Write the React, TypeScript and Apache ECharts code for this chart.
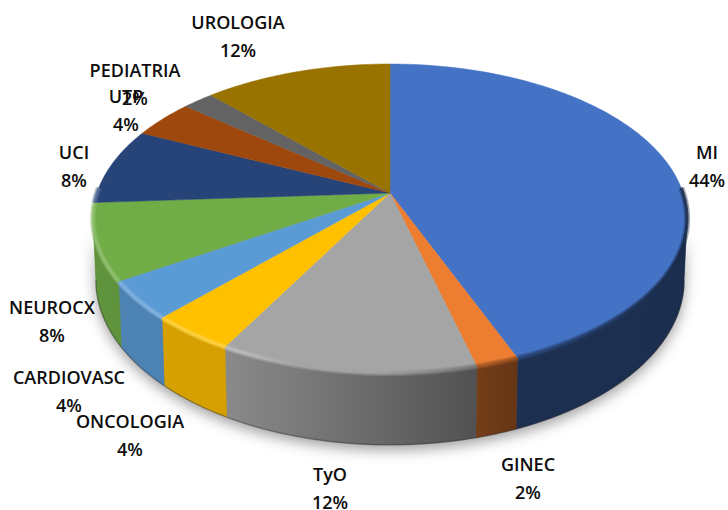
import React, { useEffect, useRef } from "react";
import * as echarts from "echarts";

const categories = ["MI", "GINEC", "TyO", "ONCOLOGIA", "CARDIOVASC", "NEUROCX", "UCI", "UTP", "PEDIATRIA", "UROLOGIA"];
const shares = [44, 2, 12, 4, 4, 8, 8, 4, 2, 12];
const colors = ["#4472c4", "#ed7d31", "#a5a5a5", "#ffc000", "#5b9bd5", "#70ad47", "#264478", "#9e480e", "#636363", "#997300"];
// centre of each two-line label
const labelX = [707, 528, 330, 130, 69, 52, 74, 126, 135, 238];
const labelY = [166, 478, 488, 435, 391, 321, 166, 110, 84, 36];

const CX = 390, CY = 193, A = 293, B = 150.3, K = 0.165, D = 60, BX = 0.99;
const total = shares.reduce((a, b) => a + b, 0);
const FRONT_A = 99.5, FRONT_B = 260.5;

const rad = (d: number) => (d * Math.PI) / 180;
function top(t: number): number[] {
  const u = Math.sin(rad(t)), v = -Math.cos(rad(t)), w = 1 - K * v;
  return [CX + (A * u) / w, CY + (B * v) / w];
}
function bottom(t: number): number[] {
  const u = Math.sin(rad(t)), v = -Math.cos(rad(t)), w = 1 - K * v;
  return [CX + (BX * A * u) / w, CY + (B * v) / w + D / w];
}
function range(a: number, b: number): number[] {
  const out: number[] = [];
  const n = Math.max(2, Math.ceil(b - a));
  for (let i = 0; i <= n; i++) out.push(a + ((b - a) * i) / n);
  return out;
}
function angles(i: number): [number, number] {
  const before = shares.slice(0, i).reduce((a, b) => a + b, 0);
  return [(before / total) * 360, ((before + shares[i]) / total) * 360];
}
function shade(hex: string, f: number): string {
  const n = parseInt(hex.slice(1), 16);
  const ch = [(n >> 16) & 255, (n >> 8) & 255, n & 255].map((c) =>
    Math.round(f <= 1 ? c * f : c + (255 - c) * (f - 1))
  );
  return `rgb(${ch[0]},${ch[1]},${ch[2]})`;
}
const X0 = 90, X1 = 690;
function stops(hex: string, pts: number[][]) {
  return {
    type: "linear", global: true, x: X0, y: 0, x2: X1, y2: 0,
    colorStops: pts.map(([x, f]) => ({ offset: (x - X0) / (X1 - X0), color: shade(hex, f) })),
  };
}
const wallShade = [[90, 0.85], [230, 0.83], [300, 0.74], [470, 0.5], [520, 0.42], [690, 0.4]];
const rimShade = [[90, 1.22], [240, 1.28], [300, 1.0], [380, 0.98], [470, 0.72], [520, 0.62], [690, 0.35]];

function renderWalls(params: any) {
  const i = params.dataIndex;
  const [a0, a1] = angles(i);
  const s = Math.max(a0, FRONT_A), e = Math.min(a1, FRONT_B);
  const children: any[] = [];
  if (i === 0) {
    const sil = range(FRONT_A, FRONT_B).map(bottom).concat(range(FRONT_A, FRONT_B).reverse().map(top));
    children.push({
      type: "polygon", shape: { points: sil },
      style: { fill: "#777", shadowColor: "rgba(0,0,0,0.38)", shadowBlur: 14, shadowOffsetY: 5 },
    });
  }
  if (e > s) {
    const pts = range(s, e).map(top).concat(range(s, e).reverse().map(bottom));
    const g = stops(colors[i], wallShade);
    children.push({ type: "polygon", shape: { points: pts }, style: { fill: g, stroke: g, lineWidth: 0.5 } });
    children.push({
      type: "polyline", shape: { points: range(s, e).map(bottom) },
      style: { fill: "none", stroke: "rgba(40,40,40,0.35)", lineWidth: 1.5 },
    });
  }
  return { type: "group", children };
}

function renderTops(params: any) {
  const i = params.dataIndex;
  const [a0, a1] = angles(i);
  const pts = [[CX, CY], ...range(a0, a1).map(top)];
  const children: any[] = [
    { type: "polygon", shape: { points: pts }, style: { fill: colors[i], stroke: colors[i], lineWidth: 0.5 } },
  ];
  const s = Math.max(a0, 88), e = Math.min(a1, 272);
  if (e > s) {
    const rim = range(s, e).map(top);
    const g = stops(colors[i], rimShade);
    children.push({ type: "polyline", shape: { points: rim }, style: { fill: "none", stroke: g, lineWidth: 6, opacity: 0.4 } });
    children.push({ type: "polyline", shape: { points: rim }, style: { fill: "none", stroke: g, lineWidth: 3, opacity: 0.8 } });
  }
  return { type: "group", children };
}

function renderLabels(params: any) {
  const i = params.dataIndex;
  return {
    type: "text",
    style: {
      x: labelX[i], y: labelY[i],
      text: `${categories[i]}\n${shares[i]}%`,
      align: "center", verticalAlign: "middle",
      lineHeight: 28, fill: "#0d0d0d",
      font: '600 18px "Open Sans", sans-serif',
    },
  };
}

export default function App() {
  const ref = useRef<HTMLDivElement>(null);
  useEffect(() => {
    const chart = echarts.init(ref.current!, undefined, { renderer: "svg" });
    const data = categories.map((name, i) => ({ name, value: shares[i] }));
    chart.setOption({
      animation: false,
      backgroundColor: "#ffffff",
      series: [
        { type: "custom", coordinateSystem: "none", z: 1, data, renderItem: renderWalls, silent: true },
        { type: "custom", coordinateSystem: "none", z: 2, data, renderItem: renderTops, silent: true },
        { type: "custom", coordinateSystem: "none", z: 3, data, renderItem: renderLabels, silent: true },
      ],
    });
    return () => chart.dispose();
  }, []);
  return <div ref={ref} style={{ position: "fixed", left: 0, top: 0, width: 728, height: 510 }} />;
}
